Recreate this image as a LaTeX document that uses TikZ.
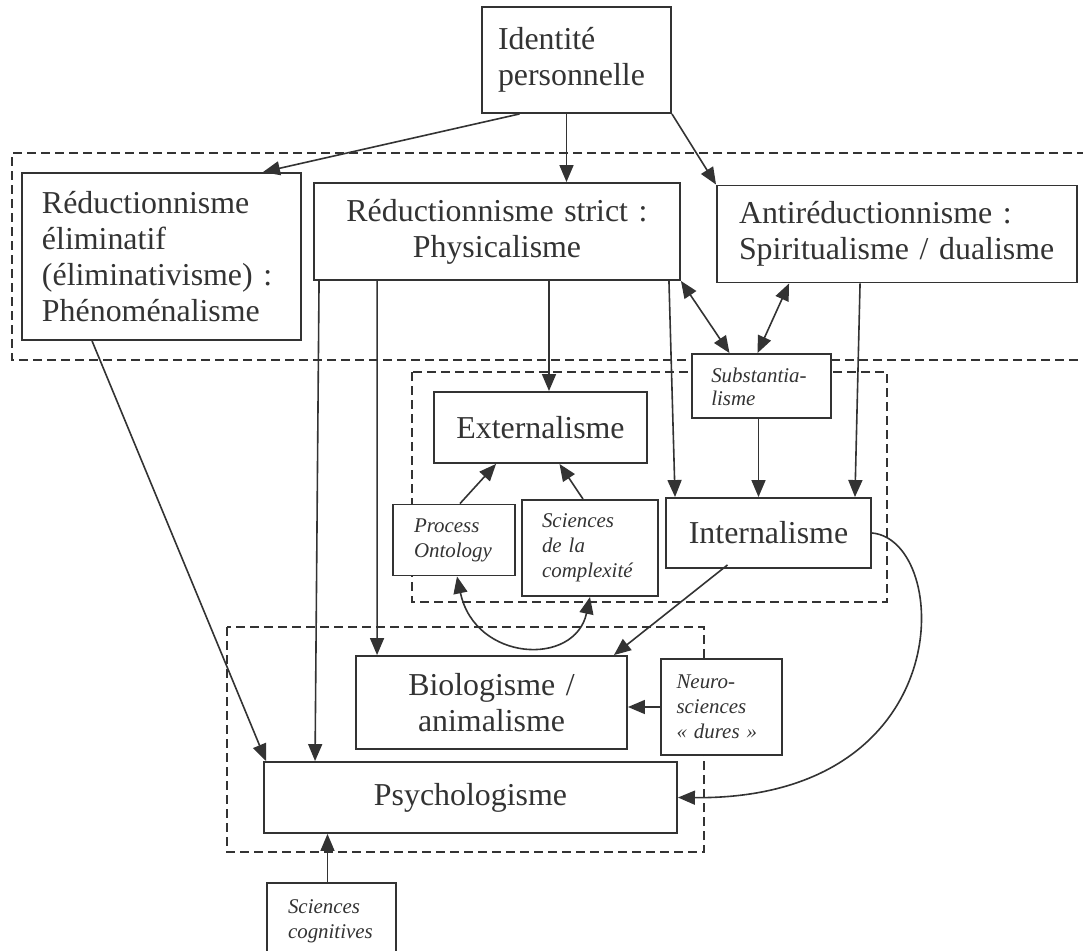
\documentclass[tikz,border=0pt]{standalone}
\usepackage{fontspec}
\setmainfont{Liberation Serif}
\usetikzlibrary{arrows.meta}
\definecolor{ink}{HTML}{333333}
\tikzset{
  box/.style={draw=ink, fill=white, line width=1.9bp, inner sep=0pt, text=ink,
    font=\fontsize{32}{36}\selectfont},
  ibox/.style={box, font=\fontsize{21}{25}\selectfont\itshape},
  itext/.style={inner sep=0pt, text=ink, font=\fontsize{21}{23}\selectfont\itshape, align=left},
  arr/.style={draw=ink, line width=1.6bp, -{Triangle[length=17bp,width=14bp]}},
  darr/.style={draw=ink, line width=1.6bp, {Triangle[length=17bp,width=14bp]}-{Triangle[length=17bp,width=14bp]}},
  dbox/.style={draw=ink, line width=1.5bp, dash pattern=on 9bp off 5bp}
}
\begin{document}
\begin{tikzpicture}[x=1bp,y=-1bp]
\useasboundingbox (0,0) rectangle (1083,951);
\fill[white] (0,0) rectangle (1083,951);
% dashed groups
\draw[dbox] (1100,153) -- (12,153) -- (12,360) -- (1100,360);
\draw[dbox] (412,372) rectangle (887,602);
\draw[dbox] (227,627) rectangle (704,852);
% boxes
\node[box, minimum width=189bp, minimum height=106bp, text width=157bp, align=left] (id) at (576.5,60) {Identité\\personnelle};
\node[box, minimum width=279bp, minimum height=167bp, text width=239bp, align=left] (re) at (161.5,256.5) {Réductionnisme\\éliminatif\\(éliminativisme) :\\Phénoménalisme};
\node[box, minimum width=366bp, minimum height=97bp, text width=340bp, align=center] (rs) at (497,231.5) {Réductionnisme strict :\\Physicalisme};
\node[box, minimum width=360bp, minimum height=97bp, text width=316bp, align=left] (ar) at (897,234) {Antiréductionnisme :\\Spiritualisme / dualisme};
\node[box, minimum width=139bp, minimum height=64bp] (sub) at (761.5,386) {};
\node[itext, anchor=base west] (subt) at ([shift={(20bp,-52bp)}]sub.north west) {Substantia-\\lisme};
\node[box, minimum width=213bp, minimum height=71bp, text width=200bp, align=center] (ext) at (540.5,427.5) {Externalisme};
\node[ibox, minimum width=122bp, minimum height=71bp, text width=80bp, align=left] (po) at (454,540) {Process\\Ontology};
\node[ibox, minimum width=136bp, minimum height=96bp, text width=96bp, align=left] (sc) at (590,548) {Sciences\\de la\\complexité};
\node[box, minimum width=205bp, minimum height=70bp, text width=190bp, align=center] (int) at (768.5,533) {Internalisme};
\node[box, minimum width=271bp, minimum height=93bp, text width=250bp, align=center] (bio) at (491.5,702.5) {Biologisme /\\animalisme};
\node[ibox, minimum width=121bp, minimum height=96bp, text width=90bp, align=left] (neu) at (721.5,707) {Neuro-\\sciences\\«~dures~»};
\node[box, minimum width=413bp, minimum height=71bp, text width=390bp, align=center] (psy) at (470.5,797.5) {Psychologisme};
\node[ibox, minimum width=129bp, minimum height=76bp, text width=87bp, align=left] (cog) at (331.5,921) {Sciences\\cognitives};
% connectors
\draw[arr] ([xshift=-57bp]id.south) -- ([xshift=-39bp]re.north east);
\draw[arr] ([xshift=-10bp]id.south) -- ([xshift=-10bp]id.south |- rs.north);
\draw[arr] (id.south east) -- (ar.north west);
\draw[darr] (rs.south east) -- ([xshift=-32bp]sub.north);
\draw[darr] ([xshift=73bp]ar.south west) -- ([xshift=-4bp]sub.north);
\draw[arr] ([xshift=-12bp]rs.south east) -- ([xshift=10bp]int.north west);
\draw[arr] ([xshift=144bp]ar.south west) -- ([xshift=-17bp]int.north east);
\draw[arr] ([xshift=-3bp]sub.south) -- ([xshift=-3bp]sub.south |- int.north);
\draw[arr] ([xshift=52bp]rs.south) -- ([xshift=52bp]rs.south |- ext.north);
\draw[arr] ([xshift=6bp]po.north) -- ([xshift=63bp]ext.south west);
\draw[arr] ([xshift=-7bp]sc.north) -- ([xshift=19bp]ext.south);
\draw[darr] ([xshift=3bp]po.south) .. controls (475,662) and (575,667) .. (sc.south);
\draw[arr] ([xshift=-41bp,yshift=4bp]int.south) -- ([xshift=-14bp]bio.north east);
\draw[arr] (int.east) .. controls (952,540) and (962,800) .. (psy.east);
\draw[arr] (neu.west) -- (neu.west -| bio.east);
\draw[arr] ([xshift=71bp]re.south west) -- ([xshift=3bp]psy.north west);
\draw[arr] ([xshift=6bp]rs.south west) -- ([xshift=52bp]psy.north west);
\draw[arr] ([xshift=64bp]rs.south west) -- ([xshift=22bp]bio.north west);
\draw[arr] ([xshift=-4bp]cog.north) -- ([xshift=-4bp]cog.north |- psy.south);
\end{tikzpicture}
\end{document}
